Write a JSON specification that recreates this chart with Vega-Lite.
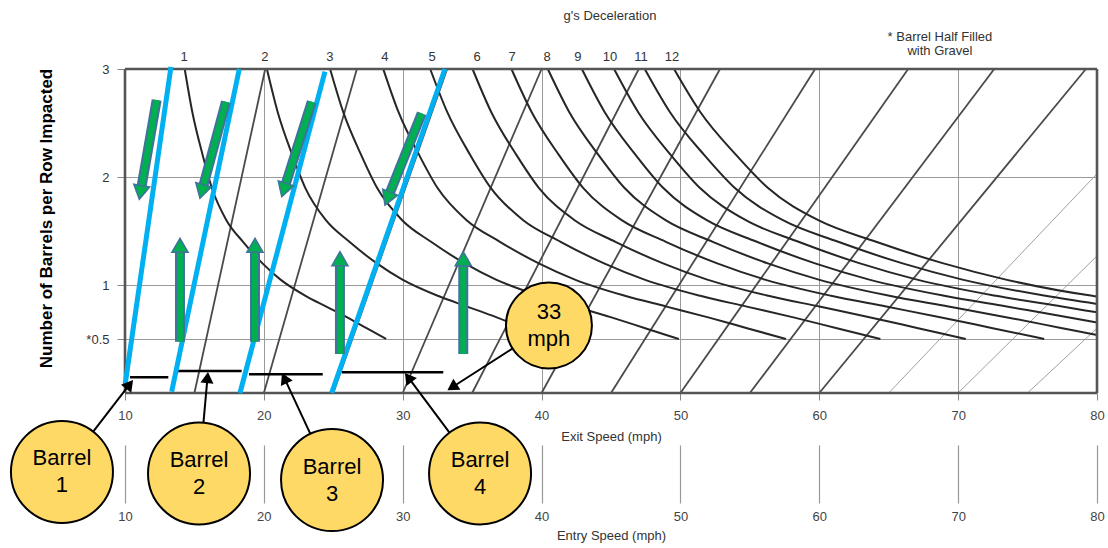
{
  "$schema": "https://vega.github.io/schema/vega-lite/v6.json",
  "width": 972,
  "height": 324,
  "autosize": {"type": "none"},
  "padding": {"left": 125, "top": 69, "right": 11, "bottom": 155},
  "background": "white",
  "config": {"font": "Liberation Sans", "view": {"stroke": null}},
  "datasets": {
    "diagonals": [
      {"exit": 10, "speed": 10, "barrels": 0}, {"exit": 10, "speed": 13.3, "barrels": 3},
      {"exit": 15, "speed": 15, "barrels": 0}, {"exit": 15, "speed": 20.1, "barrels": 3},
      {"exit": 20, "speed": 20, "barrels": 0}, {"exit": 20, "speed": 26.7, "barrels": 3},
      {"exit": 25, "speed": 25, "barrels": 0}, {"exit": 25, "speed": 33.2, "barrels": 3},
      {"exit": 30, "speed": 30, "barrels": 0}, {"exit": 30, "speed": 40.0, "barrels": 3},
      {"exit": 35, "speed": 35, "barrels": 0}, {"exit": 35, "speed": 47.0, "barrels": 3},
      {"exit": 40, "speed": 40, "barrels": 0}, {"exit": 40, "speed": 52.85, "barrels": 3},
      {"exit": 45, "speed": 45, "barrels": 0}, {"exit": 45, "speed": 59.7, "barrels": 3},
      {"exit": 50, "speed": 50, "barrels": 0}, {"exit": 50, "speed": 66.4, "barrels": 3},
      {"exit": 55, "speed": 55, "barrels": 0}, {"exit": 55, "speed": 72.6, "barrels": 3},
      {"exit": 60, "speed": 60, "barrels": 0}, {"exit": 60, "speed": 79.2, "barrels": 3},
      {"exit": 65, "speed": 65, "barrels": 0}, {"exit": 65, "speed": 80, "barrels": 2.03},
      {"exit": 70, "speed": 70, "barrels": 0}, {"exit": 70, "speed": 80, "barrels": 1.27},
      {"exit": 75, "speed": 75, "barrels": 0}, {"exit": 75, "speed": 80, "barrels": 0.6}
    ],
    "gcurves": [
      {"g": 1, "speed": 14.3, "barrels": 3}, {"g": 1, "speed": 14.85, "barrels": 2.6}, {"g": 1, "speed": 15.6, "barrels": 2.2}, {"g": 1, "speed": 16.25, "barrels": 1.9}, {"g": 1, "speed": 17.3, "barrels": 1.6}, {"g": 1, "speed": 18.5, "barrels": 1.4}, {"g": 1, "speed": 19.9, "barrels": 1.2}, {"g": 1, "speed": 21.2, "barrels": 1.05}, {"g": 1, "speed": 23.0, "barrels": 0.9}, {"g": 1, "speed": 24.5, "barrels": 0.8}, {"g": 1, "speed": 26.0, "barrels": 0.7}, {"g": 1, "speed": 27.4, "barrels": 0.6}, {"g": 1, "speed": 28.8, "barrels": 0.5},
      {"g": 2, "speed": 20.22, "barrels": 3}, {"g": 2, "speed": 21.0, "barrels": 2.6}, {"g": 2, "speed": 22.06, "barrels": 2.2}, {"g": 2, "speed": 22.98, "barrels": 1.9}, {"g": 2, "speed": 24.47, "barrels": 1.6}, {"g": 2, "speed": 26.16, "barrels": 1.4}, {"g": 2, "speed": 28.14, "barrels": 1.2}, {"g": 2, "speed": 29.98, "barrels": 1.05}, {"g": 2, "speed": 32.53, "barrels": 0.9}, {"g": 2, "speed": 34.65, "barrels": 0.8}, {"g": 2, "speed": 36.77, "barrels": 0.7}, {"g": 2, "speed": 38.75, "barrels": 0.6}, {"g": 2, "speed": 40.73, "barrels": 0.5},
      {"g": 3, "speed": 24.77, "barrels": 3}, {"g": 3, "speed": 25.72, "barrels": 2.6}, {"g": 3, "speed": 27.02, "barrels": 2.2}, {"g": 3, "speed": 28.15, "barrels": 1.9}, {"g": 3, "speed": 29.96, "barrels": 1.6}, {"g": 3, "speed": 32.04, "barrels": 1.4}, {"g": 3, "speed": 34.47, "barrels": 1.2}, {"g": 3, "speed": 36.72, "barrels": 1.05}, {"g": 3, "speed": 39.84, "barrels": 0.9}, {"g": 3, "speed": 42.44, "barrels": 0.8}, {"g": 3, "speed": 45.03, "barrels": 0.7}, {"g": 3, "speed": 47.46, "barrels": 0.6}, {"g": 3, "speed": 49.88, "barrels": 0.5},
      {"g": 4, "speed": 28.6, "barrels": 3}, {"g": 4, "speed": 29.7, "barrels": 2.6}, {"g": 4, "speed": 31.2, "barrels": 2.2}, {"g": 4, "speed": 32.5, "barrels": 1.9}, {"g": 4, "speed": 34.6, "barrels": 1.6}, {"g": 4, "speed": 37.0, "barrels": 1.4}, {"g": 4, "speed": 39.8, "barrels": 1.2}, {"g": 4, "speed": 42.4, "barrels": 1.05}, {"g": 4, "speed": 46.0, "barrels": 0.9}, {"g": 4, "speed": 49.0, "barrels": 0.8}, {"g": 4, "speed": 52.0, "barrels": 0.7}, {"g": 4, "speed": 54.8, "barrels": 0.6}, {"g": 4, "speed": 57.6, "barrels": 0.5},
      {"g": 5, "speed": 31.98, "barrels": 3}, {"g": 5, "speed": 33.21, "barrels": 2.6}, {"g": 5, "speed": 34.88, "barrels": 2.2}, {"g": 5, "speed": 36.34, "barrels": 1.9}, {"g": 5, "speed": 38.68, "barrels": 1.6}, {"g": 5, "speed": 41.37, "barrels": 1.4}, {"g": 5, "speed": 44.5, "barrels": 1.2}, {"g": 5, "speed": 47.41, "barrels": 1.05}, {"g": 5, "speed": 51.43, "barrels": 0.9}, {"g": 5, "speed": 54.78, "barrels": 0.8}, {"g": 5, "speed": 58.14, "barrels": 0.7}, {"g": 5, "speed": 61.27, "barrels": 0.6}, {"g": 5, "speed": 64.4, "barrels": 0.5},
      {"g": 6, "speed": 35.03, "barrels": 3}, {"g": 6, "speed": 36.38, "barrels": 2.6}, {"g": 6, "speed": 38.21, "barrels": 2.2}, {"g": 6, "speed": 39.8, "barrels": 1.9}, {"g": 6, "speed": 42.38, "barrels": 1.6}, {"g": 6, "speed": 45.32, "barrels": 1.4}, {"g": 6, "speed": 48.75, "barrels": 1.2}, {"g": 6, "speed": 51.93, "barrels": 1.05}, {"g": 6, "speed": 56.34, "barrels": 0.9}, {"g": 6, "speed": 60.01, "barrels": 0.8}, {"g": 6, "speed": 63.69, "barrels": 0.7}, {"g": 6, "speed": 67.12, "barrels": 0.6}, {"g": 6, "speed": 70.55, "barrels": 0.5},
      {"g": 7, "speed": 37.83, "barrels": 3}, {"g": 7, "speed": 39.29, "barrels": 2.6}, {"g": 7, "speed": 41.27, "barrels": 2.2}, {"g": 7, "speed": 42.99, "barrels": 1.9}, {"g": 7, "speed": 45.77, "barrels": 1.6}, {"g": 7, "speed": 48.95, "barrels": 1.4}, {"g": 7, "speed": 52.65, "barrels": 1.2}, {"g": 7, "speed": 56.09, "barrels": 1.05}, {"g": 7, "speed": 60.85, "barrels": 0.9}, {"g": 7, "speed": 64.82, "barrels": 0.8}, {"g": 7, "speed": 68.79, "barrels": 0.7}, {"g": 7, "speed": 72.49, "barrels": 0.6}, {"g": 7, "speed": 76.2, "barrels": 0.5},
      {"g": 8, "speed": 40.45, "barrels": 3}, {"g": 8, "speed": 42.0, "barrels": 2.6}, {"g": 8, "speed": 44.12, "barrels": 2.2}, {"g": 8, "speed": 45.96, "barrels": 1.9}, {"g": 8, "speed": 48.93, "barrels": 1.6}, {"g": 8, "speed": 52.33, "barrels": 1.4}, {"g": 8, "speed": 56.29, "barrels": 1.2}, {"g": 8, "speed": 59.96, "barrels": 1.05}, {"g": 8, "speed": 65.05, "barrels": 0.9}, {"g": 8, "speed": 69.3, "barrels": 0.8}, {"g": 8, "speed": 73.54, "barrels": 0.7}, {"g": 8, "speed": 77.5, "barrels": 0.6}, {"g": 8, "speed": 80, "barrels": 0.537},
      {"g": 9, "speed": 42.9, "barrels": 3}, {"g": 9, "speed": 44.55, "barrels": 2.6}, {"g": 9, "speed": 46.8, "barrels": 2.2}, {"g": 9, "speed": 48.75, "barrels": 1.9}, {"g": 9, "speed": 51.9, "barrels": 1.6}, {"g": 9, "speed": 55.5, "barrels": 1.4}, {"g": 9, "speed": 59.7, "barrels": 1.2}, {"g": 9, "speed": 63.6, "barrels": 1.05}, {"g": 9, "speed": 69.0, "barrels": 0.9}, {"g": 9, "speed": 73.5, "barrels": 0.8}, {"g": 9, "speed": 78.0, "barrels": 0.7}, {"g": 9, "speed": 80, "barrels": 0.652},
      {"g": 10, "speed": 45.22, "barrels": 3}, {"g": 10, "speed": 46.96, "barrels": 2.6}, {"g": 10, "speed": 49.33, "barrels": 2.2}, {"g": 10, "speed": 51.39, "barrels": 1.9}, {"g": 10, "speed": 54.71, "barrels": 1.6}, {"g": 10, "speed": 58.5, "barrels": 1.4}, {"g": 10, "speed": 62.93, "barrels": 1.2}, {"g": 10, "speed": 67.04, "barrels": 1.05}, {"g": 10, "speed": 72.73, "barrels": 0.9}, {"g": 10, "speed": 77.48, "barrels": 0.8}, {"g": 10, "speed": 80, "barrels": 0.747},
      {"g": 11, "speed": 47.43, "barrels": 3}, {"g": 11, "speed": 49.25, "barrels": 2.6}, {"g": 11, "speed": 51.74, "barrels": 2.2}, {"g": 11, "speed": 53.9, "barrels": 1.9}, {"g": 11, "speed": 57.38, "barrels": 1.6}, {"g": 11, "speed": 61.36, "barrels": 1.4}, {"g": 11, "speed": 66.0, "barrels": 1.2}, {"g": 11, "speed": 70.31, "barrels": 1.05}, {"g": 11, "speed": 76.28, "barrels": 0.9}, {"g": 11, "speed": 80, "barrels": 0.825},
      {"g": 12, "speed": 49.54, "barrels": 3}, {"g": 12, "speed": 51.44, "barrels": 2.6}, {"g": 12, "speed": 54.04, "barrels": 2.2}, {"g": 12, "speed": 56.29, "barrels": 1.9}, {"g": 12, "speed": 59.93, "barrels": 1.6}, {"g": 12, "speed": 64.09, "barrels": 1.4}, {"g": 12, "speed": 68.94, "barrels": 1.2}, {"g": 12, "speed": 73.44, "barrels": 1.05}, {"g": 12, "speed": 79.67, "barrels": 0.9}, {"g": 12, "speed": 80, "barrels": 0.894}
    ],
    "gLabels": [
      {"g": "1", "speed": 14.25, "barrels": 3.111}, {"g": "2", "speed": 20.08, "barrels": 3.111},
      {"g": "3", "speed": 24.76, "barrels": 3.111}, {"g": "4", "speed": 28.72, "barrels": 3.111},
      {"g": "5", "speed": 32.11, "barrels": 3.111}, {"g": "6", "speed": 35.35, "barrels": 3.111},
      {"g": "7", "speed": 37.87, "barrels": 3.111}, {"g": "8", "speed": 40.39, "barrels": 3.111},
      {"g": "9", "speed": 42.62, "barrels": 3.111}, {"g": "10", "speed": 44.93, "barrels": 3.111},
      {"g": "11", "speed": 47.16, "barrels": 3.111}, {"g": "12", "speed": 49.39, "barrels": 3.111}
    ],
    "frame": [
      {"edge": "top", "speed": 10, "speed2": 80, "barrels": 3, "barrels2": 3},
      {"edge": "bottom", "speed": 10, "speed2": 80, "barrels": 0, "barrels2": 0},
      {"edge": "left", "speed": 10, "speed2": 10, "barrels": 0, "barrels2": 3},
      {"edge": "right", "speed": 80, "speed2": 80, "barrels": 0, "barrels2": 3}
    ],
    "barrelSpans": [
      {"barrel": 1, "speed": 10.36, "speed2": 13.12, "barrels": 0.145},
      {"barrel": 2, "speed": 13.77, "speed2": 18.4, "barrels": 0.204},
      {"barrel": 3, "speed": 18.93, "speed2": 24.24, "barrels": 0.173},
      {"barrel": 4, "speed": 25.61, "speed2": 32.92, "barrels": 0.191}
    ],
    "entryPaths": [
      {"barrel": 1, "speed": 10.0, "barrels": 0.07}, {"barrel": 1, "speed": 13.31, "barrels": 3.02},
      {"barrel": 2, "speed": 13.36, "barrels": 0.012}, {"barrel": 2, "speed": 18.23, "barrels": 3.0},
      {"barrel": 3, "speed": 18.28, "barrels": 0.0}, {"barrel": 3, "speed": 24.4, "barrels": 2.975},
      {"barrel": 4, "speed": 24.88, "barrels": 0.0}, {"barrel": 4, "speed": 33.04, "barrels": 3.0}
    ],
    "exitSpeeds": [
      {"barrel": 1, "speed": 13.19}, {"barrel": 2, "speed": 18.4},
      {"barrel": 3, "speed": 24.64}, {"barrel": 4, "speed": 33}
    ],
    "flowArrows": [
      {"arrow": "D1", "speed": 12.28, "barrels": 2.713, "speed2": 11.12, "barrels2": 1.857},
      {"arrow": "D2", "speed": 17.27, "barrels": 2.697, "speed2": 15.53, "barrels2": 1.866},
      {"arrow": "D3", "speed": 23.45, "barrels": 2.697, "speed2": 21.44, "barrels2": 1.88},
      {"arrow": "D4", "speed": 31.37, "barrels": 2.59, "speed2": 28.91, "barrels2": 1.8},
      {"arrow": "U1", "speed": 13.96, "barrels": 0.475, "speed2": 13.96, "barrels2": 1.368},
      {"arrow": "U2", "speed": 19.36, "barrels": 0.475, "speed2": 19.36, "barrels2": 1.368},
      {"arrow": "U3", "speed": 25.48, "barrels": 0.361, "speed2": 25.48, "barrels2": 1.244},
      {"arrow": "U4", "speed": 34.36, "barrels": 0.361, "speed2": 34.36, "barrels2": 1.244}
    ],
    "pointers": [
      {"callout": "B1", "speed": 7.71, "barrels": -0.357, "speed2": 10.33, "barrels2": 0.08},
      {"callout": "B2", "speed": 15.65, "barrels": -0.275, "speed2": 15.94, "barrels2": 0.143},
      {"callout": "B3", "speed": 23.35, "barrels": -0.378, "speed2": 21.48, "barrels2": 0.138},
      {"callout": "B4", "speed": 33.37, "barrels": -0.367, "speed2": 30.4, "barrels2": 0.144},
      {"callout": "S", "speed": 37.93, "barrels": 0.414, "speed2": 33.56, "barrels2": 0.053}
    ],
    "callouts": [
      {"kind": "barrel", "label": "Barrel\n1", "speed": 5.46, "barrels": -0.731},
      {"kind": "barrel", "label": "Barrel\n2", "speed": 15.33, "barrels": -0.745},
      {"kind": "barrel", "label": "Barrel\n3", "speed": 24.91, "barrels": -0.806},
      {"kind": "barrel", "label": "Barrel\n4", "speed": 35.57, "barrels": -0.745},
      {"kind": "speed", "label": "33\nmph", "speed": 40.53, "barrels": 0.625}
    ],
    "headings": [
      {"text": "g's Deceleration", "speed": 44.93, "barrels": 3.481},
      {"text": "* Barrel Half Filled\nwith Gravel", "speed": 68.69, "barrels": 3.287}
    ]
  },
  "layer": [
    {
      "encoding": {
        "x": {
          "field": "speed", "type": "quantitative",
          "scale": {"domain": [10, 80], "nice": false, "zero": false},
          "axis": {
            "orient": "bottom", "values": [10, 20, 30, 40, 50, 60, 70, 80],
            "domain": false, "grid": true, "gridColor": "#9a9a9a", "gridWidth": 1,
            "tickSize": 7, "tickColor": "#888", "labelPadding": 9, "labelFlush": false,
            "labelFontSize": 13, "labelColor": "#444",
            "title": "Exit Speed (mph)", "titleFontSize": 13, "titleFontWeight": "normal",
            "titleColor": "#333", "titlePadding": 8
          }
        },
        "y": {
          "field": "barrels", "type": "quantitative",
          "scale": {"domain": [0, 3], "nice": false, "zero": false},
          "axis": {
            "values": [0.5, 1, 2, 3],
            "labelExpr": "datum.value == 0.5 ? '*0.5' : datum.label",
            "domain": false, "grid": true, "gridColor": "#9a9a9a", "gridWidth": 1,
            "tickSize": 8, "tickColor": "#888", "labelPadding": 8, "labelFlush": false,
            "labelFontSize": 13, "labelColor": "#333",
            "title": "Number of Barrels per Row Impacted", "titleFontSize": 17,
            "titleFontWeight": "bold", "titleColor": "#000", "titlePadding": 30, "titleY": 149
          }
        }
      },
      "layer": [
        {
          "data": {"name": "diagonals"},
          "transform": [{"filter": "datum.exit <= 60"}],
          "mark": {"type": "line", "color": "#4a4a4a", "strokeWidth": 1.8},
          "encoding": {"detail": {"field": "exit"}}
        },
        {
          "data": {"name": "diagonals"},
          "transform": [{"filter": "datum.exit > 60"}],
          "mark": {"type": "line", "color": "#a0a0a0", "strokeWidth": 1},
          "encoding": {"detail": {"field": "exit"}}
        },
        {
          "data": {"name": "gcurves"},
          "mark": {"type": "line", "color": "#262626", "strokeWidth": 2, "interpolate": "monotone"},
          "encoding": {"detail": {"field": "g"}}
        },
        {
          "data": {"name": "frame"},
          "mark": {"type": "rule", "color": "#555", "strokeWidth": 2.6},
          "encoding": {"x2": {"field": "speed2"}, "y2": {"field": "barrels2"}}
        },
        {
          "data": {"name": "barrelSpans"},
          "mark": {"type": "rule", "color": "#000", "strokeWidth": 2.5},
          "encoding": {"x2": {"field": "speed2"}}
        },
        {
          "data": {"name": "entryPaths"},
          "mark": {"type": "line", "color": "#00B0F0", "strokeWidth": 5, "strokeCap": "butt"},
          "encoding": {"detail": {"field": "barrel"}}
        },
        {
          "data": {"name": "exitSpeeds"},
          "mark": {"type": "rule", "color": "#FF0000", "strokeWidth": 5},
          "encoding": {"y": {"datum": 0}, "y2": {"datum": 3}}
        },
        {
          "data": {"name": "flowArrows"},
          "mark": {"type": "rule", "color": "#41719C", "strokeWidth": 10, "strokeCap": "butt"},
          "encoding": {"x2": {"field": "speed2"}, "y2": {"field": "barrels2"}}
        },
        {
          "data": {"name": "flowArrows"},
          "mark": {"type": "rule", "color": "#00B050", "strokeWidth": 6, "strokeCap": "butt"},
          "encoding": {"x2": {"field": "speed2"}, "y2": {"field": "barrels2"}}
        },
        {
          "data": {"name": "flowArrows"},
          "transform": [{"filter": "datum.arrow[0] == 'U'"}],
          "mark": {"type": "point", "shape": "triangle-up", "filled": true, "size": 260, "color": "#00B050", "stroke": "#41719C", "strokeWidth": 1.5, "opacity": 1},
          "encoding": {"x": {"field": "speed2", "type": "quantitative"}, "y": {"field": "barrels2", "type": "quantitative"}}
        },
        {
          "data": {"name": "flowArrows"},
          "transform": [{"filter": "datum.arrow == 'D1'"}],
          "mark": {"type": "point", "shape": "triangle-up", "angle": 190, "filled": true, "size": 260, "color": "#00B050", "stroke": "#41719C", "strokeWidth": 1.5, "opacity": 1},
          "encoding": {"x": {"field": "speed2", "type": "quantitative"}, "y": {"field": "barrels2", "type": "quantitative"}}
        },
        {
          "data": {"name": "flowArrows"},
          "transform": [{"filter": "datum.arrow == 'D2'"}],
          "mark": {"type": "point", "shape": "triangle-up", "angle": 195, "filled": true, "size": 260, "color": "#00B050", "stroke": "#41719C", "strokeWidth": 1.5, "opacity": 1},
          "encoding": {"x": {"field": "speed2", "type": "quantitative"}, "y": {"field": "barrels2", "type": "quantitative"}}
        },
        {
          "data": {"name": "flowArrows"},
          "transform": [{"filter": "datum.arrow == 'D3'"}],
          "mark": {"type": "point", "shape": "triangle-up", "angle": 197.5, "filled": true, "size": 260, "color": "#00B050", "stroke": "#41719C", "strokeWidth": 1.5, "opacity": 1},
          "encoding": {"x": {"field": "speed2", "type": "quantitative"}, "y": {"field": "barrels2", "type": "quantitative"}}
        },
        {
          "data": {"name": "flowArrows"},
          "transform": [{"filter": "datum.arrow == 'D4'"}],
          "mark": {"type": "point", "shape": "triangle-up", "angle": 202, "filled": true, "size": 260, "color": "#00B050", "stroke": "#41719C", "strokeWidth": 1.5, "opacity": 1},
          "encoding": {"x": {"field": "speed2", "type": "quantitative"}, "y": {"field": "barrels2", "type": "quantitative"}}
        },
        {
          "data": {"name": "pointers"},
          "mark": {"type": "rule", "color": "#000", "strokeWidth": 2},
          "encoding": {"x2": {"field": "speed2"}, "y2": {"field": "barrels2"}}
        },
        {
          "data": {"name": "pointers"},
          "transform": [{"filter": "datum.callout == 'B1'"}],
          "mark": {"type": "point", "shape": "triangle-up", "angle": 38, "filled": true, "size": 170, "color": "#000", "opacity": 1},
          "encoding": {"x": {"field": "speed2", "type": "quantitative"}, "y": {"field": "barrels2", "type": "quantitative"}}
        },
        {
          "data": {"name": "pointers"},
          "transform": [{"filter": "datum.callout == 'B2'"}],
          "mark": {"type": "point", "shape": "triangle-up", "angle": 5, "filled": true, "size": 170, "color": "#000", "opacity": 1},
          "encoding": {"x": {"field": "speed2", "type": "quantitative"}, "y": {"field": "barrels2", "type": "quantitative"}}
        },
        {
          "data": {"name": "pointers"},
          "transform": [{"filter": "datum.callout == 'B3'"}],
          "mark": {"type": "point", "shape": "triangle-up", "angle": 335, "filled": true, "size": 170, "color": "#000", "opacity": 1},
          "encoding": {"x": {"field": "speed2", "type": "quantitative"}, "y": {"field": "barrels2", "type": "quantitative"}}
        },
        {
          "data": {"name": "pointers"},
          "transform": [{"filter": "datum.callout == 'B4'"}],
          "mark": {"type": "point", "shape": "triangle-up", "angle": 323, "filled": true, "size": 170, "color": "#000", "opacity": 1},
          "encoding": {"x": {"field": "speed2", "type": "quantitative"}, "y": {"field": "barrels2", "type": "quantitative"}}
        },
        {
          "data": {"name": "pointers"},
          "transform": [{"filter": "datum.callout == 'S'"}],
          "mark": {"type": "point", "shape": "triangle-up", "angle": 237, "filled": true, "size": 170, "color": "#000", "opacity": 1},
          "encoding": {"x": {"field": "speed2", "type": "quantitative"}, "y": {"field": "barrels2", "type": "quantitative"}}
        },
        {
          "data": {"name": "callouts"},
          "transform": [{"filter": "datum.kind == 'barrel'"}],
          "mark": {"type": "point", "shape": "circle", "filled": true, "size": 10404, "fill": "#FFD966", "stroke": "#000", "strokeWidth": 2, "opacity": 1}
        },
        {
          "data": {"name": "callouts"},
          "transform": [{"filter": "datum.kind == 'speed'"}],
          "mark": {"type": "point", "shape": "circle", "filled": true, "size": 7396, "fill": "#FFD966", "stroke": "#000", "strokeWidth": 2, "opacity": 1}
        },
        {
          "data": {"name": "callouts"},
          "mark": {"type": "text", "fontSize": 22, "lineHeight": 27, "lineBreak": "\n", "align": "center", "baseline": "middle", "dy": -13.5, "color": "#000"},
          "encoding": {"text": {"field": "label"}}
        },
        {
          "data": {"name": "gLabels"},
          "mark": {"type": "text", "fontSize": 13, "align": "center", "baseline": "middle", "color": "#333"},
          "encoding": {"text": {"field": "g"}}
        },
        {
          "data": {"name": "headings"},
          "mark": {"type": "text", "fontSize": 13, "lineHeight": 14, "lineBreak": "\n", "align": "center", "baseline": "top", "dy": -7, "color": "#333"},
          "encoding": {"text": {"field": "text"}}
        }
      ]
    },
    {
      "data": {"values": [{"speed": 10}, {"speed": 80}]},
      "mark": {"type": "point", "opacity": 0},
      "encoding": {
        "x": {
          "field": "speed", "type": "quantitative",
          "scale": {"domain": [10, 80], "nice": false, "zero": false},
          "axis": {
            "orient": "bottom", "offset": 52, "values": [10, 20, 30, 40, 50, 60, 70, 80],
            "domain": false, "grid": false, "tickSize": 58, "tickColor": "#999", "tickWidth": 1.2,
            "labelPadding": 7, "labelFlush": false, "labelFontSize": 13, "labelColor": "#444",
            "title": "Entry Speed (mph)", "titleFontSize": 13, "titleFontWeight": "normal",
            "titleColor": "#333", "titlePadding": 6
          }
        }
      }
    }
  ],
  "resolve": {"axis": {"x": "independent"}}
}
